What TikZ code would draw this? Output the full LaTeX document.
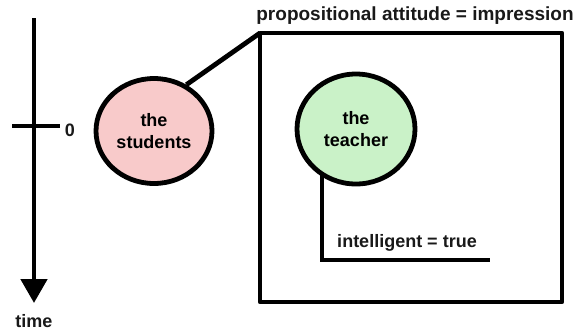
\documentclass[tikz,border=0pt]{standalone}
\usepackage{fontspec}
\setmainfont{Liberation Sans}
\usetikzlibrary{arrows.meta,shapes.geometric,backgrounds}
\definecolor{pinkfill}{RGB}{248,202,202}
\definecolor{greenfill}{RGB}{202,242,200}
\tikzset{
  thick line/.style={line width=4.8pt},
  lbl/.style={font=\fontsize{18}{21}\selectfont\bfseries, text=black!90, inner sep=0pt},
  blob/.style={ellipse, draw, line width=4.8pt, align=center, font=\fontsize{18}{22}\selectfont\bfseries, inner sep=0pt}
}
\begin{document}
\begin{tikzpicture}[x=1pt,y=-1pt]
\useasboundingbox (0,0) rectangle (577,333);
% time axis
\coordinate (ttop) at (34,18);
\coordinate (tbot) at (34,303);
\draw[thick line,-{Triangle[width=26pt,length=24pt]}] (ttop) -- (tbot);
\coordinate (tickl) at (12,126);
\coordinate (tickr) at (60,126);
\draw[thick line] (tickl) -- (tickr);
\node[lbl] (zero) at (70,130) {0};
\node[lbl] (time) at (34,321) {time};
% students
\node[blob, fill=pinkfill, minimum width=116pt, minimum height=105pt] (stu) at (154,131) {the\\students};
% box
\coordinate (boxtl) at (260,33);
\coordinate (boxbr) at (562,302);
\draw[thick line, line join=round] (boxtl) rectangle (boxbr);
\draw[thick line] (stu.55) -- (boxtl);
\node[lbl, font=\fontsize{19}{22}\selectfont\bfseries] (title) at (415,16) {propositional attitude = impression};
% teacher
\node[blob, fill=greenfill, minimum width=118pt, minimum height=110pt] (tea) at (356,129) {the\\teacher};
\coordinate (corner) at (322,260);
\coordinate (lend) at (490,260);
\begin{scope}[on background layer]
\draw[thick line] (corner |- tea.center) -- (corner) -- (lend);
\end{scope}
\node[lbl] (intel) at (407,243) {intelligent = true};
\end{tikzpicture}
\end{document}
